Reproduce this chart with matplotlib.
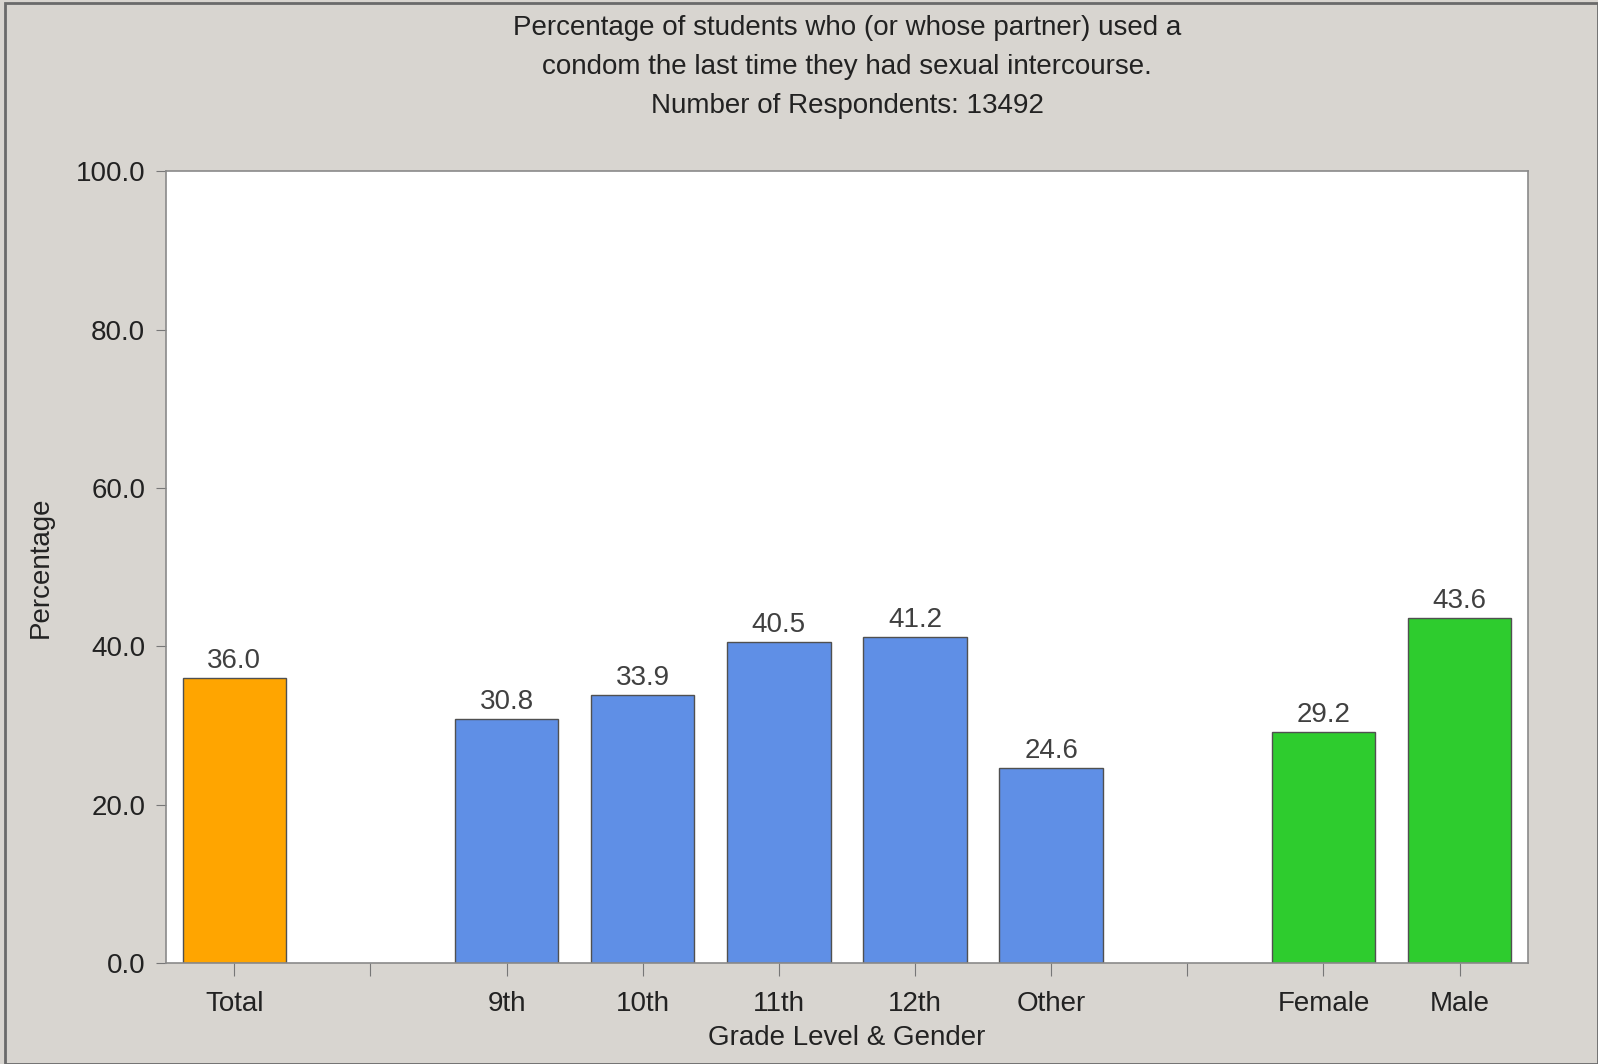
import matplotlib.pyplot as plt
import numpy as np

# Datos
categorias = ['Total', '', '9th', '10th', '11th', '12th', 'Other', '', 'Female', 'Male']
valores = [36.0, None, 30.8, 33.9, 40.5, 41.2, 24.6, None, 29.2, 43.6]
colores = ['#FFA500', None, '#5F8FE6', '#5F8FE6', '#5F8FE6', '#5F8FE6', '#5F8FE6',
           None, '#2ECC2E', '#2ECC2E']
titulo = ("Percentage of students who (or whose partner) used a\n"
          "condom the last time they had sexual intercourse.\n"
          "Number of Respondents: 13492")

plt.rcParams['font.family'] = ['Liberation Sans', 'DejaVu Sans']

fig = plt.figure(figsize=(15.98, 10.64), dpi=100, facecolor='#D8D5D0')
ax = fig.add_axes([0.104, 0.095, 0.852, 0.744])
ax.set_facecolor('white')

x = np.arange(len(categorias))
for i, v in enumerate(valores):
    if v is None:
        continue
    ax.bar(x[i], v, width=0.76, color=colores[i], edgecolor='#505050', linewidth=1)
    ax.text(x[i], v + 0.5, f'{v:.1f}', ha='center', va='bottom', fontsize=20, color='#404040')

ax.set_xlim(-0.5, len(categorias) - 0.5)
ax.set_ylim(0, 100)
ax.set_xticks(x)
ax.set_xticklabels(categorias, fontsize=20, color='#222222')
ax.set_yticks(np.arange(0, 101, 20))
ax.set_yticklabels([f'{t:.1f}' for t in np.arange(0, 101, 20)], fontsize=20, color='#222222')
ax.tick_params(axis='y', direction='out', length=7, color='#777777', pad=8)
ax.tick_params(axis='x', direction='out', length=9, color='#777777', pad=11)

for s in ax.spines.values():
    s.set_color('#8a8a8a')
    s.set_linewidth(1.2)

ax.set_xlabel('Grade Level & Gender', fontsize=20, color='#222222', labelpad=6)
ax.set_ylabel('Percentage', fontsize=20, color='#222222', labelpad=16)

fig.text(0.53, 0.986, titulo, ha='center', va='top', fontsize=20, color='#222222',
         linespacing=1.66)

# Marco de la figura
fig.patches.append(plt.Rectangle((0.003, 0.0), 0.997, 0.997, transform=fig.transFigure,
                                 fill=False, edgecolor='#6a6a6a', linewidth=2))

plt.savefig('out.png', dpi=100, facecolor=fig.get_facecolor())
